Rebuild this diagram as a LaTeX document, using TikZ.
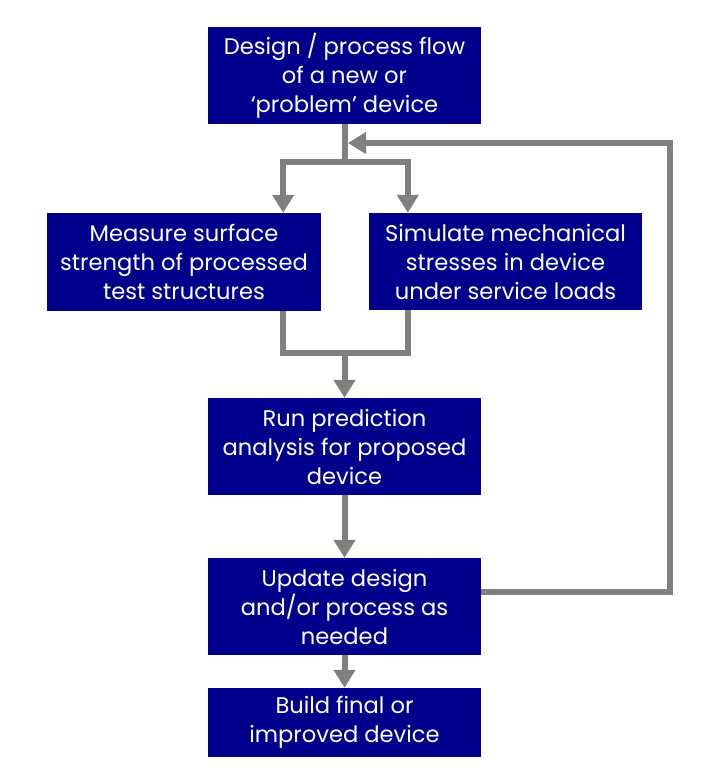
\documentclass[tikz,border=0pt]{standalone}
\usepackage{fontspec}
\setmainfont{Poppins}
\usetikzlibrary{arrows.meta}
\definecolor{boxblue}{RGB}{0,0,140}
\definecolor{linegray}{RGB}{128,128,128}
\begin{document}
\begin{tikzpicture}[x=1pt,y=-1pt,
  box/.style={fill=boxblue,text=white,minimum width=273pt,inner sep=0pt,align=center,
    font=\fontsize{22.6}{29}\selectfont},
  conn/.style={draw=linegray,line width=6pt},
  arr/.style={conn,-{Triangle[width=21pt,length=18pt]}}]
\useasboundingbox[fill=white] (0,0) rectangle (703,771);
\node[box,minimum height=97pt] (top) at (344.5,75.5) {Design / process flow\\of a new or\\‘problem’ device};
\node[box,minimum height=98pt,minimum width=274pt] (measure) at (184,262) {Measure surface\\strength of processed\\test structures};
\node[box,minimum height=97pt] (simulate) at (505.5,261.5) {Simulate mechanical\\stresses in device\\under service loads};
\node[box,minimum height=97pt] (run) at (344.5,446.5) {Run prediction\\analysis for proposed\\device};
\node[box,minimum height=97pt] (update) at (344.5,606.5) {Update design\\and/or process as\\needed};
\node[box,minimum height=69pt] (build) at (344.5,722.5) {Build final or\\improved device};
\coordinate (split) at (344.5,162);
\coordinate (mIn) at ([xshift=-38pt]measure.north east);
\coordinate (sIn) at ([xshift=39pt]simulate.north west);
\coordinate (mOut) at ([xshift=-38pt]measure.south east);
\coordinate (sOut) at ([xshift=39pt]simulate.south west);
\coordinate (join) at (344.5,353);
\coordinate (fbIn) at (348,143);
\coordinate (fbCorner) at (670,143);
\draw[conn] (top.south) -- (split);
\draw[arr] (split) -| (mIn);
\draw[arr] (split) -| (sIn);
\draw[conn] (mOut) |- (join) -| (sOut);
\draw[arr] (join) -- (run.north);
\draw[arr] (run.south) -- (update.north);
\draw[arr] (update.south) -- (build.north);
\draw[arr] ([yshift=14.5pt]update.east) -| (fbCorner) -- (fbIn);
\end{tikzpicture}
\end{document}
